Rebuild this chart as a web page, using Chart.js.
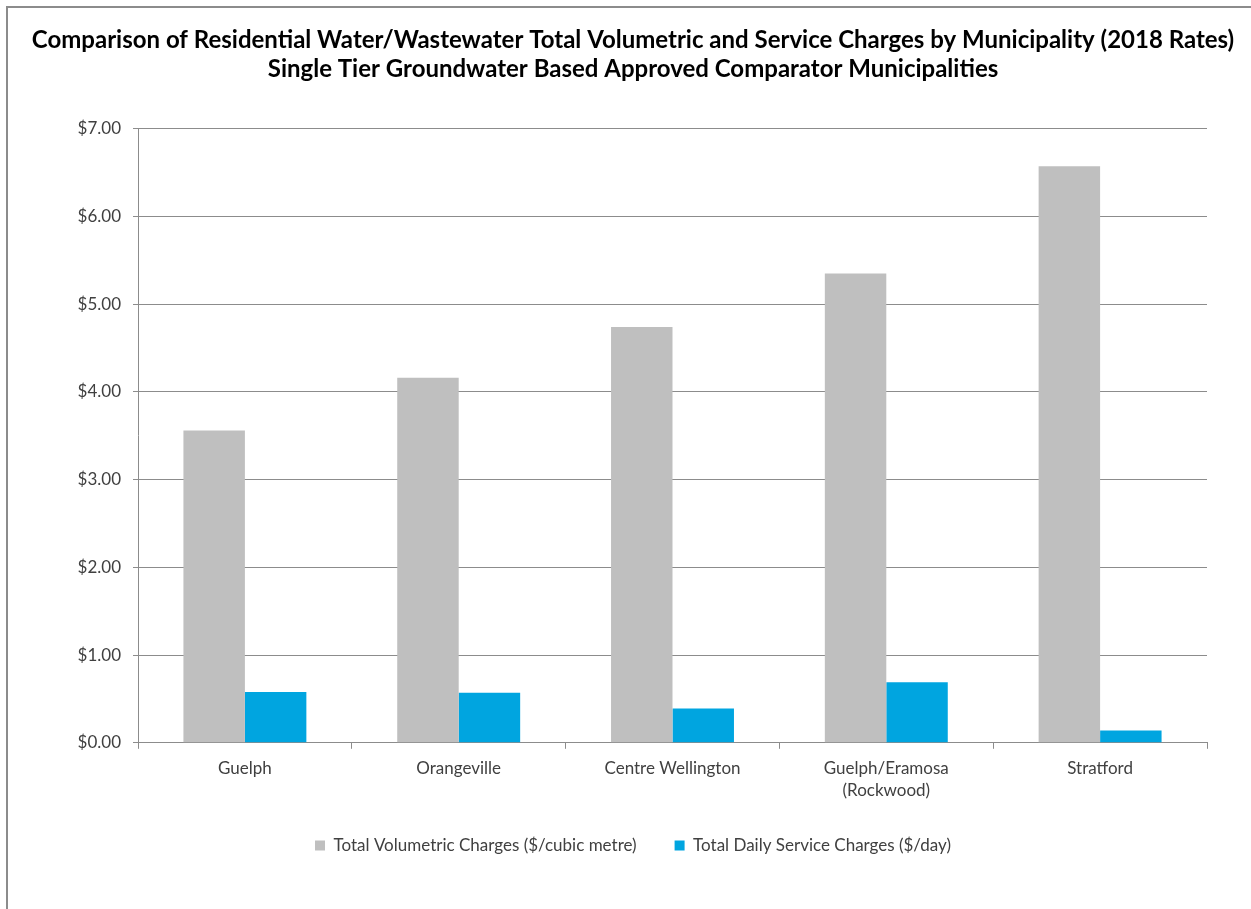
<!DOCTYPE html>
<html>
<head>
<meta charset="utf-8">
<script src="https://cdn.jsdelivr.net/npm/chart.js@4"></script>
<style>
  html, body { margin: 0; padding: 0; background: #fff; }
  #frame {
    position: absolute; left: 6px; top: 6px;
    width: 1245px; height: 903px;
    border-left: 2px solid #8c8c8c; border-top: 2px solid #8c8c8c;
  }
  #chart { display: block; }
</style>
</head>
<body>
<div id="frame"><canvas id="chart" width="1243" height="901"></canvas></div>
<script>
  var municipalities = ['Guelph', 'Orangeville', 'Centre Wellington', ['Guelph/Eramosa', '(Rockwood)'], 'Stratford'];
  var volumetricCharges = [3.56, 4.16, 4.74, 5.35, 6.57];
  var dailyServiceCharges = [0.58, 0.57, 0.39, 0.69, 0.14];
  var titleLines = [
    'Comparison of Residential Water/Wastewater Total Volumetric and Service Charges by Municipality (2018 Rates)',
    'Single Tier Groundwater Based Approved Comparator Municipalities'
  ];

  var textColor = '#404040';
  var lineColor = '#8c8c8c';
  var font = 'Lato, "Open Sans", sans-serif';

  new Chart(document.getElementById('chart').getContext('2d'), {
    type: 'bar',
    data: {
      labels: municipalities,
      datasets: [{
        label: 'Total Volumetric Charges ($/cubic metre)',
        data: volumetricCharges,
        backgroundColor: '#bfbfbf'
      }, {
        label: 'Total Daily Service Charges ($/day)',
        data: dailyServiceCharges,
        backgroundColor: '#00a5e0'
      }]
    },
    options: {
      responsive: false,
      maintainAspectRatio: false,
      animation: false,
      layout: { padding: { left: 7, right: 0, top: 0, bottom: 45 } },
      datasets: { bar: { categoryPercentage: 0.575, barPercentage: 1.0 } },
      plugins: {
        title: {
          display: true,
          text: titleLines,
          color: '#000',
          font: { family: font, size: 24, weight: 'bold', lineHeight: 1.2 },
          padding: { top: 18, bottom: 45 }
        },
        legend: {
          position: 'bottom',
          labels: {
            color: textColor,
            font: { family: font, size: 17 },
            boxWidth: 10,
            boxHeight: 10,
            padding: 38
          }
        },
        tooltip: { enabled: false }
      },
      scales: {
        x: {
          afterFit: function(scale) { scale.height -= 12; },
          grid: { offset: true, drawOnChartArea: false, tickLength: 6, color: lineColor },
          border: { color: lineColor, width: 1 },
          ticks: { color: textColor, font: { family: font, size: 17, lineHeight: 1.3 }, maxRotation: 0, padding: 9 }
        },
        y: {
          min: 0,
          max: 7,
          afterFit: function(scale) { scale.width = 123; },
          grid: { color: lineColor, tickLength: 5 },
          border: { color: lineColor, width: 1 },
          ticks: {
            stepSize: 1,
            color: textColor,
            font: { family: font, size: 17 },
            padding: 12,
            callback: function(v) { return '$' + v.toFixed(2); }
          }
        },
        // empty right-hand axis, only keeps the gap right of the plot
        yGap: {
          position: 'right',
          afterFit: function(scale) { scale.width = 44; },
          grid: { display: false },
          border: { display: false },
          ticks: { display: false }
        }
      }
    }
  });
</script>
</body>
</html>
